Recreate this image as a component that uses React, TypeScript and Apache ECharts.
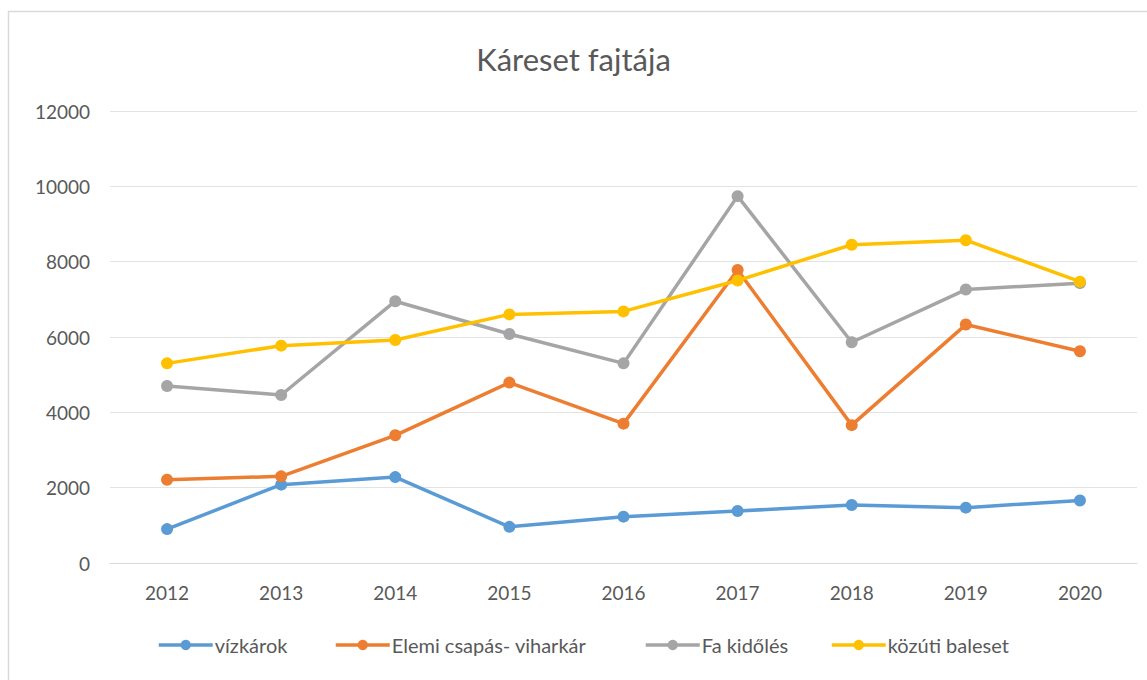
import React, { useEffect, useRef } from "react";
import * as echarts from "echarts";

const years = ["2012", "2013", "2014", "2015", "2016", "2017", "2018", "2019", "2020"];
const vizkarok = [900, 2080, 2280, 960, 1230, 1380, 1540, 1470, 1660];
const elemi = [2210, 2300, 3390, 4790, 3700, 7780, 3660, 6330, 5620];
const faKidoles = [4700, 4460, 6950, 6080, 5300, 9740, 5860, 7260, 7430];
const kozuti = [5300, 5770, 5920, 6600, 6680, 7500, 8450, 8570, 7470];

const seriesNames = ["vízkárok", "Elemi csapás- viharkár", "Fa kidőlés", "közúti baleset"];
const seriesColors = ["#5B9BD5", "#ED7D31", "#A5A5A5", "#FFC000"];
const seriesData = [vizkarok, elemi, faKidoles, kozuti];
const legendLefts = [152, 329, 639, 825];

const FONT = "Lato, 'Open Sans', sans-serif";

export default function App() {
  const ref = useRef<HTMLDivElement>(null);
  useEffect(() => {
    if (!ref.current) return;
    const chart = echarts.init(ref.current, null, { renderer: "svg" });
    chart.setOption({
      animation: false,
      backgroundColor: "#ffffff",
      graphic: [
        {
          type: "rect",
          shape: { x: 8.5, y: 11.5, width: 1145, height: 680 },
          style: { fill: "none", stroke: "#d9d9d9", lineWidth: 1.5 },
          silent: true,
        },
      ],
      title: {
        text: "Káreset fajtája",
        left: "center",
        top: 38,
        textStyle: { fontFamily: FONT, fontSize: 31, fontWeight: "normal", color: "#595959" },
      },
      legend: seriesNames.map((name, i) => ({
        bottom: 20,
        left: legendLefts[i],
        itemWidth: 54,
        itemHeight: 13,
        lineStyle: { width: 3.5 },
        textStyle: { fontFamily: FONT, fontSize: 20, color: "#595959", padding: [0, 0, 0, -3] },
        data: [name],
      })),
      grid: { left: 110, right: 10, top: 111, bottom: 117 },
      xAxis: {
        type: "category",
        data: years,
        boundaryGap: true,
        axisLine: { lineStyle: { color: "#d9d9d9", width: 1 } },
        axisTick: { show: false },
        axisLabel: { fontFamily: FONT, fontSize: 19, color: "#595959", margin: 20 },
      },
      yAxis: {
        type: "value",
        min: 0,
        max: 12000,
        interval: 2000,
        axisLine: { show: false },
        axisTick: { show: false },
        axisLabel: {
          fontFamily: FONT,
          fontSize: 19,
          color: "#595959",
          margin: 20,
          formatter: (v: number) => String(v),
        },
        splitLine: { lineStyle: { color: "#e3e3e3", width: 1 } },
      },
      series: seriesNames.map((name, i) => ({
        name,
        type: "line",
        data: seriesData[i],
        color: seriesColors[i],
        symbol: "circle",
        symbolSize: 12,
        lineStyle: { width: 3.5, color: seriesColors[i] },
        itemStyle: { color: seriesColors[i] },
      })),
    });
    return () => chart.dispose();
  }, []);
  return (
    <div
      ref={ref}
      style={{ position: "absolute", left: 0, top: 0, width: 1147, height: 680 }}
    />
  );
}
